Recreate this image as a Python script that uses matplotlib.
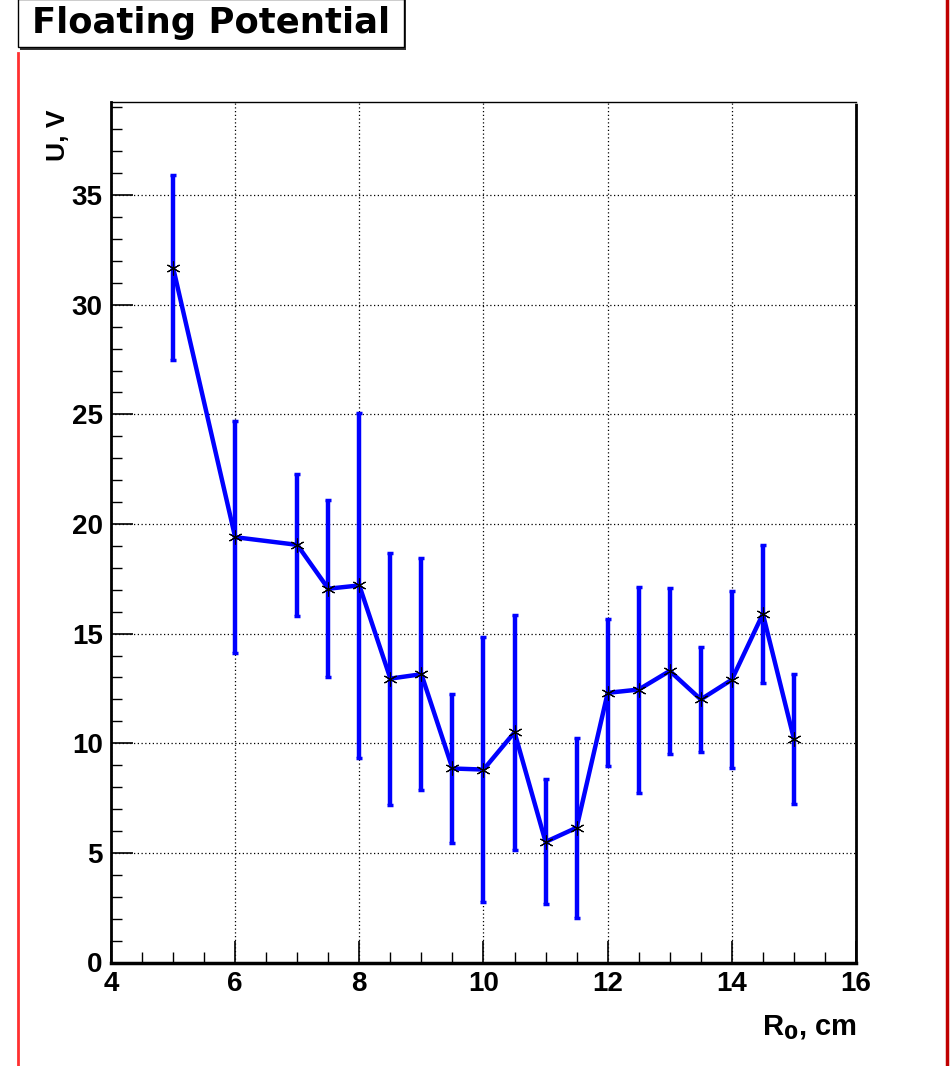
import matplotlib
matplotlib.use("Agg")
import matplotlib.pyplot as plt
from matplotlib.lines import Line2D
from matplotlib.patches import Rectangle
from matplotlib.ticker import MultipleLocator

plt.rcParams['font.family'] = ['Liberation Sans', 'DejaVu Sans']

# Data
r0_cm = [5, 6, 7, 7.5, 8, 8.5, 9, 9.5, 10, 10.5, 11, 11.5, 12, 12.5, 13, 13.5, 14, 14.5, 15]
u_volts = [31.7, 19.4, 19.05, 17.05, 17.2, 12.95, 13.15, 8.85, 8.8, 10.5, 5.5, 6.15,
           12.3, 12.45, 13.3, 12.0, 12.9, 15.9, 10.2]
u_err = [4.2, 5.3, 3.25, 4.05, 7.85, 5.75, 5.3, 3.4, 6.05, 5.35, 2.85, 4.1,
         3.35, 4.7, 3.8, 2.4, 4.05, 3.15, 2.95]
x_ticks = [4, 6, 8, 10, 12, 14, 16]
y_ticks = [0, 5, 10, 15, 20, 25, 30, 35]
title = "Floating Potential"
xlabel = "R$_\\mathbf{0}$, cm"
ylabel = "U, V"

W, H = 953, 1066
fig = plt.figure(figsize=(W / 100, H / 100), dpi=100)
ax = fig.add_axes([111 / W, 1 - 962.5 / H, (856 - 111) / W, (962.5 - 102) / H])

ax.errorbar(r0_cm, u_volts, yerr=u_err, color='#0000ff', lw=3.2, elinewidth=3.2,
            capsize=2, capthick=2.5, zorder=3)
ax.plot(r0_cm, u_volts, ls='none', marker=(6, 2, 0), ms=10, mec='black', mew=0.8, zorder=4)

ax.set_xlim(4, 16)
ax.set_ylim(0, 39.25)
ax.set_xticks(x_ticks)
ax.set_yticks(y_ticks)
ax.xaxis.set_minor_locator(MultipleLocator(0.5))
ax.yaxis.set_minor_locator(MultipleLocator(1))
ax.tick_params(which='both', direction='in', top=False, right=False, color='black')
ax.tick_params(which='major', length=16, width=1.2, labelsize=20, pad=6)
ax.tick_params(which='minor', length=8, width=1.0)
for lab in ax.get_xticklabels() + ax.get_yticklabels():
    lab.set_fontweight('bold')
ax.grid(True, which='major', ls=(0, (1, 2)), color='black', lw=0.9)
ax.set_axisbelow(True)

ax.spines['left'].set_linewidth(2.0)
ax.spines['bottom'].set_linewidth(2.5)
ax.spines['top'].set_linewidth(1.0)
ax.spines['right'].set_linewidth(2.0)
ax.spines['right'].set_linestyle((0, (1, 1)))

fig.text(58 / W, 1 - 135 / H, ylabel, rotation=90, ha='center', va='center',
         fontsize=19, fontweight='bold')
fig.text(857 / W, 1 - 1028 / H, xlabel, ha='right', va='center',
         fontsize=21, fontweight='bold')

# Title box with shadow
fig.add_artist(Rectangle((20 / W, 1 - 50 / H), (386) / W, 50 / H, transform=fig.transFigure,
                         facecolor='#333333', edgecolor='none', zorder=5))
fig.add_artist(Rectangle((18 / W, 1 - 47 / H), (386) / W, 48 / H, transform=fig.transFigure,
                         facecolor='white', edgecolor='black', lw=1.0, zorder=6))
fig.text(211 / W, 1 - 23 / H, title, ha='center', va='center', fontsize=25.5,
         fontweight='bold', family=['DejaVu Sans'], zorder=7)

# Side red lines
fig.add_artist(Line2D([18.5 / W, 18.5 / W], [0, 1 - 53 / H], transform=fig.transFigure,
                      color='#ff3030', lw=2.0))
fig.add_artist(Line2D([947 / W, 947 / W], [0, 1], transform=fig.transFigure,
                      color='#c00000', lw=2.5))

fig.savefig("out.png", dpi=100)
